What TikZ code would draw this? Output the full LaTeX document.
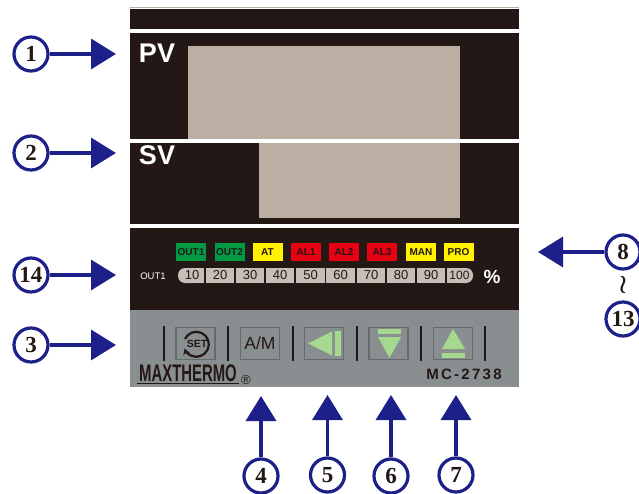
\documentclass[tikz,border=0pt]{standalone}
\usepackage{fontspec}
\usepackage{xcolor}
\setmainfont{Liberation Sans}
\newfontfamily\calloutfont{Liberation Serif}
\newfontfamily\modelfont[LetterSpace=15]{Liberation Sans}
\usetikzlibrary{arrows.meta}
\definecolor{panelblack}{HTML}{231815}
\definecolor{lcdgrey}{HTML}{BBAFA4}
\definecolor{keygrey}{HTML}{898E90}
\definecolor{keyedge}{HTML}{656A6C}
\definecolor{keygreen}{HTML}{A5D98F}
\definecolor{cellgrey}{HTML}{C9BDB8}
\definecolor{navy}{HTML}{1D2088}
\definecolor{ledgreen}{HTML}{009944}
\definecolor{ledyellow}{HTML}{FFF100}
\definecolor{ledred}{HTML}{E60012}
\tikzset{
  callout/.style={circle, draw=navy, line width=3.2pt, fill=white, minimum size=34pt, inner sep=0pt,
    text=panelblack, font=\calloutfont\bfseries\fontsize{23}{23}\selectfont},
  pointer/.style={draw=navy, line width=3.4pt, -{Triangle[length=25pt,width=30pt,fill=navy]}, shorten >=0pt},
  led/.style={minimum width=30pt, minimum height=18pt, inner sep=0pt, text=panelblack,
    font=\bfseries\fontsize{10}{10}\selectfont},
  cell/.style={fill=cellgrey, minimum height=15pt, inner sep=0pt, text=panelblack,
    font=\fontsize{13}{13}\selectfont},
  keycap/.style={draw=keyedge, line width=1.6pt, minimum width=39pt, minimum height=32pt, inner sep=0pt},
  divider/.style={draw=panelblack, line width=1.6pt},
  glyph/.style={fill=keygreen}
}
\begin{document}
\begin{tikzpicture}[x=1pt, y=-1pt]
  \useasboundingbox (0,0) rectangle (639,494);
  % faceplate
  \draw[lcdgrey, line width=0.8pt] (130,7.5) -- (519,7.5);
  \fill[panelblack] (130,9) rectangle (519,29);
  \fill[panelblack] (130,33) rectangle (519,139);
  \fill[panelblack] (130,143) rectangle (519,224);
  \fill[panelblack] (130,228) rectangle (519,310);
  \fill[keygrey] (130,310) rectangle (519,387);
  \fill[lcdgrey] (188,46) rectangle (460,139);
  \fill[lcdgrey] (259,143) rectangle (460,218);
  \node[white, font=\bfseries\fontsize{27}{27}\selectfont] (pv) at (157,53) {PV};
  \node[white, font=\bfseries\fontsize{27}{27}\selectfont] (sv) at (157,155) {SV};
  % indicators
  \foreach \name/\x/\col in {OUT1/191/ledgreen, OUT2/229.5/ledgreen, AT/267.5/ledyellow, AL1/306/ledred,
      AL2/344/ledred, AL3/382/ledred, MAN/421/ledyellow, PRO/458.5/ledyellow}
    \node[led, fill=\col] (led\name) at (\x,252) {\name};
  \node[white, font=\fontsize{9.5}{9.5}\selectfont] (outlabel) at (153,276) {OUT1};
  \node[white, font=\bfseries\fontsize{19}{19}\selectfont] (percent) at (492,277) {\%};
  % bargraph
  \fill[cellgrey, rounded corners=7pt] (178,268) rectangle (200,283);
  \fill[cellgrey, rounded corners=7pt] (455,268) rectangle (473,283);
  \fill[cellgrey] (190,268) rectangle (204,283);
  \fill[cellgrey] (447,268) rectangle (462,283);
  \foreach \val/\x/\w in {20/220/28.5, 30/250/28, 40/280/28, 50/310.5/29, 60/340.5/29, 70/371/28, 80/401/28, 90/431/28}
    \node[cell, minimum width=\w pt] (cell\val) at (\x,275.5) {\val};
  \node[text=panelblack, inner sep=0pt, font=\fontsize{13}{13}\selectfont] (cell10) at (192,275.5) {10};
  \node[text=panelblack, inner sep=0pt, font=\fontsize{12}{12}\selectfont] (cell100) at (459.5,275.5) {100};
  % keys
  \foreach \x in {164,228,293,357,421,485}
    \draw[divider] (\x,326) -- (\x,361);
  \node[keycap] (keyset) at (195.5,343.5) {};
  \node[keycap, text=panelblack, font=\fontsize{17.5}{17.5}\selectfont] (keyam) at (260,343.5) {A/M};
  \node[keycap] (keyleft) at (324,343.5) {};
  \node[keycap] (keydown) at (388.5,343.5) {};
  \node[keycap] (keyup) at (453,343.5) {};
  \node[text=panelblack, font=\bfseries\fontsize{10.5}{10.5}\selectfont] (settext) at (197,343.5) {SET};
  \draw[panelblack, line width=2.2pt, -{Stealth[length=6pt,width=7pt]}] (185,339) arc[start angle=155, end angle=-160, radius=12.5pt];
  \fill[glyph] (308,343.5) -- (332,331.5) -- (332,355.5) -- cycle;
  \fill[glyph] (335,331) rectangle (341,356);
  \fill[glyph] (378,329) rectangle (401,334);
  \fill[glyph] (378,337) -- (401,337) -- (389.5,358) -- cycle;
  \fill[glyph] (453,329) -- (465,349) -- (442,349) -- cycle;
  \fill[glyph] (442,353) rectangle (465,358);
  \node[text=panelblack, xscale=0.62, font=\bfseries\fontsize{24}{24}\selectfont] (brand) at (188,373) {MAXTHERMO};
  \draw[panelblack, line width=0.7pt] (137,383) -- (239,383);
  \node[text=panelblack, font=\fontsize{13}{13}\selectfont] (regmark) at (246,380) {\textregistered};
  \node[text=panelblack, font=\modelfont\bfseries\fontsize{15}{15}\selectfont] (model) at (464,374) {MC-2738};
  % callouts
  \coordinate (tip1) at (116,54);
  \coordinate (tip2) at (116,153);
  \coordinate (tip14) at (116,275);
  \coordinate (tip3) at (116,345);
  \coordinate (tip8) at (538,252);
  \coordinate (tip4) at (261,396);
  \coordinate (tip5) at (327.5,395);
  \coordinate (tip6) at (391,395);
  \coordinate (tip7) at (456,395);
  \foreach \n/\x/\y in {1/31/54, 2/31/153, 14/31/275, 3/31/345, 8/623/252, 4/261/476, 5/327.5/475, 6/391/476, 7/456/475}{
    \node[callout] (num\n) at (\x,\y) {\n};
    \draw[pointer] (num\n) -- (tip\n);
  }
  \node[callout] (num13) at (623,319) {13};
  \node[text=panelblack] (range) at (623,285) {\scalebox{2.6}{\boldmath$\wr$}};
\end{tikzpicture}
\end{document}
